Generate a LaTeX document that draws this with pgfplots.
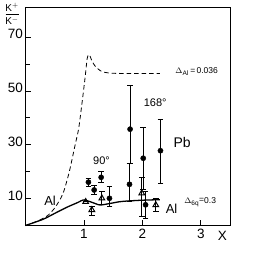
\documentclass[border=0pt]{standalone}
\usepackage{fontspec}
\setmainfont{Liberation Sans}
\usepackage{pgfplots}
\pgfplotsset{compat=1.18}
\begin{document}
\begin{tikzpicture}[x=1pt,y=1pt]
\path[use as bounding box] (-25.5,-30.5) rectangle (230.5,225.5);
\begin{axis}[
  at={(0,0)}, anchor=south west,
  scale only axis, width=204.5pt, height=218.5pt,
  xmin=0, xmax=3.5, ymin=0, ymax=81.2,
  xtick={1,2,3}, ytick={10,30,50,70}, minor ytick={20,40,60},
  tick align=inside, major tick length=5pt, minor tick length=4pt,
  xtick pos=bottom, ytick pos=left,
  tick style={black, line width=0.8pt},
  axis line style={black, line width=0.9pt},
  /pgf/number format/assume math mode=true,
  ticklabel style={font=\fontsize{13.5}{14}\selectfont},
  yticklabel style={yshift=3pt, xshift=1pt},
  clip=false,
]
% dashed curve Delta_Al = 0.036
\addplot[black, line width=0.8pt, dash pattern=on 4.5pt off 3pt, smooth, tension=0.4] coordinates {
(0,0) (0.2,1.6) (0.38,3.7) (0.5,6.5) (0.6,10) (0.66,13) (0.75,20) (0.85,30) (0.91,36) (0.97,46) (1.02,55) (1.055,62) (1.08,63.5) (1.1,63.2) (1.14,61) (1.2,59) (1.3,57.3) (1.45,56.6) (1.8,56.5) (2.3,56.5)};
% solid curve Delta_6q = 0.3
\addplot[black, line width=1.3pt, smooth, tension=0.4] coordinates {
(0,0) (0.3,2.3) (0.5,4.5) (0.7,6.7) (0.9,8.6) (0.99,9.5) (1.1,8.9) (1.2,8.1) (1.28,7.6) (1.45,8.2) (1.6,8.8) (1.74,9.1) (2.0,9.4) (2.3,9.6)};
% Pb points (filled circles)
\addplot[only marks, black, mark=*, mark size=2.6pt,
  error bars/.cd, y dir=both, y explicit,
  error bar style={line width=0.9pt},
  error mark options={rotate=90, mark size=2.8pt, line width=0.9pt}] coordinates {
(1.077,16.1) += (0,1.4) -= (0,1.7)
(1.175,13.2) += (0,1.5) -= (0,1.5)
(1.295,17.9) += (0,2.1) -= (0,1.8)
(1.437,10.1) += (0,4.3) -= (0,3.1)
(1.78,15.3) += (0,7.8) -= (0,6.5)
(1.79,35.8) += (0,16.4) -= (0,12.7)
(2.015,25.0) += (0,11.5) -= (0,11.5)
(2.055,7.7) += (0,4.9) -= (0,4.9)
(2.31,27.8) += (0,11.7) -= (0,12.1)};
% Al points (open triangles)
\addplot[only marks, black, mark=triangle, mark size=3.3pt, mark options={line width=1pt, fill=white},
  error bars/.cd, y dir=both, y explicit,
  error bar style={line width=0.9pt},
  error mark options={rotate=90, mark size=2.8pt, line width=0.9pt}] coordinates {
(1.03,8.8) += (0,0) -= (0,0)
(1.135,5.8) += (0,1.4) -= (0,1.9)
(1.307,10.1) += (0,2.5) -= (0,2.1)
(1.99,12.0) += (0,6.0) -= (0,8.5)
(2.23,7.6) += (0,2.5) -= (0,2.5)};
% labels
\node[font=\fontsize{13}{13}\selectfont] at (axis cs:0.42,9.3) {Al};
\node[font=\fontsize{11}{11}\selectfont] at (axis cs:1.30,24) {90°};
\node[font=\fontsize{11}{11}\selectfont] at (axis cs:2.22,45.5) {168°};
\node[font=\fontsize{14}{14}\selectfont] at (axis cs:2.68,30.7) {Pb};
\node[font=\fontsize{13}{13}\selectfont] at (axis cs:2.50,6.1) {Al};
\node[font=\fontsize{8.5}{8.5}\selectfont] at (axis cs:2.99,8.6) {$\Delta_{\mbox{\fontsize{6.5}{6.5}\selectfont 6q}}$\raisebox{1.5pt}{=}0.3};
\node[font=\fontsize{8.5}{8.5}\selectfont] at (axis cs:2.93,57.1) {$\Delta_{\mbox{\fontsize{6.5}{6.5}\selectfont Al}}$\,=\,0.036};
\node[font=\fontsize{13.5}{14}\selectfont, anchor=north] at (axis cs:3.37,0) [yshift=-2.5pt] {X};
\end{axis}
\node[font=\fontsize{10}{10}\selectfont, inner sep=0pt] at (-13.5,218) {K$^{+}$};
\draw[line width=0.8pt] (-20,211) -- (-7,211);
\node[font=\fontsize{10}{10}\selectfont, inner sep=0pt] at (-13.5,204.5) {K$^{-}$};
\end{tikzpicture}
\end{document}
